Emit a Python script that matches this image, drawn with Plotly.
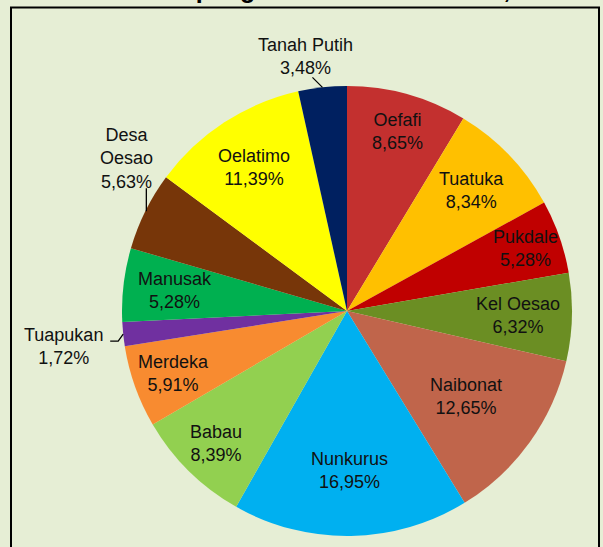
import math
import plotly.graph_objects as go

# ---- data ----
desa = ["Oefafi", "Tuatuka", "Pukdale", "Kel Oesao", "Naibonat", "Nunkurus",
        "Babau", "Merdeka", "Tuapukan", "Manusak", "Desa<br>Oesao", "Oelatimo",
        "Tanah Putih"]
persen = [8.65, 8.34, 5.28, 6.32, 12.65, 16.95, 8.39, 5.91, 1.72, 5.28, 5.63,
          11.39, 3.48]
persen_text = ["8,65%", "8,34%", "5,28%", "6,32%", "12,65%", "16,95%", "8,39%",
               "5,91%", "1,72%", "5,28%", "5,63%", "11,39%", "3,48%"]
title_text = "Kecamatan Kupang Timur Menurut Desa, 2016"

# ---- style ----
colors = ["#C3302F", "#FFC000", "#C00000", "#6B8E23", "#C0654B", "#00B0F0",
          "#92D050", "#F88B30", "#7030A0", "#00B050", "#773609", "#FFFF00",
          "#002060"]
# radial position of inside labels (fraction of radius); None = outside label
label_r = [0.83, 0.77, 0.84, 0.76, 0.65, 0.71, 0.83, 0.82, None, 0.77, None,
           0.76, None]
# outside labels: text offset from slice edge (px) and leader polyline offsets
outside = {
    12: dict(text=(-17, -31), line=[(0, 0), (-10, -10)]),
    10: dict(text=(-19, -53), line=[(1, 0), (1, -23)]),
    8: dict(text=(-60, 12), line=[(0, 0), (-5, 7), (-13, 7)]),
}

W, H = 603, 547
CX, CY, R = 347, 311, 225
BG = "#E6EED5"
FONT = "Liberation Sans, Arial, sans-serif"


def px(x):
    return x / W


def py(y):
    return 1 - y / H


fig = go.Figure(go.Pie(
    values=persen,
    labels=[d.replace("<br>", " ") for d in desa],
    sort=False,
    direction="clockwise",
    rotation=0,
    marker=dict(colors=colors, line=dict(width=0)),
    textinfo="none",
    hoverinfo="label+percent",
    showlegend=False,
    domain=dict(x=[px(CX - R), px(CX + R)], y=[py(CY + R), py(CY - R)]),
))

annotations = []
shapes = []
total = sum(persen)
cum = 0.0
for i, v in enumerate(persen):
    mid = (cum + v / 2) / total * 2 * math.pi
    cum += v
    s, c = math.sin(mid), math.cos(mid)
    text = f"{desa[i]}<br>{persen_text[i]}"
    if label_r[i] is not None:
        r = label_r[i] * R
        x, y = CX + r * s, CY - r * c
    else:
        ex, ey = CX + R * s, CY - R * c
        o = outside[i]
        x, y = ex + o["text"][0], ey + o["text"][1]
        pts = [(ex + dx, ey + dy) for dx, dy in o["line"]]
        path = "M " + " L ".join(f"{px(a)},{py(b)}" for a, b in pts)
        shapes.append(dict(type="path", xref="paper", yref="paper", path=path,
                           line=dict(color="#000000", width=1.3)))
    annotations.append(dict(
        x=px(x), y=py(y), xref="paper", yref="paper", text=text,
        showarrow=False, xanchor="center", yanchor="middle",
        font=dict(family=FONT, size=18, color="#111111"), align="center"))

# title (cut off at the top of the picture, as in the reference)
annotations.append(dict(
    x=px(20), y=py(5), xref="paper", yref="paper", text=f"<b>{title_text}</b>",
    showarrow=False, xanchor="left", yanchor="bottom",
    font=dict(family=FONT, size=25, color="#000000")))

# frame
shapes.append(dict(type="rect", xref="paper", yref="paper",
                   x0=px(11), x1=px(599), y0=py(560), y1=py(7.5),
                   line=dict(color="#000000", width=2), fillcolor="rgba(0,0,0,0)"))

fig.update_layout(
    width=W, height=H,
    margin=dict(l=0, r=0, t=0, b=0),
    paper_bgcolor=BG, plot_bgcolor=BG,
    annotations=annotations, shapes=shapes,
)

fig.write_html(
    "out.html",
    config={"displayModeBar": False},
    post_script=f"document.body.style.margin='0';"
                f"document.body.style.background='{BG}';"
                f"document.body.style.overflow='hidden';",
)
